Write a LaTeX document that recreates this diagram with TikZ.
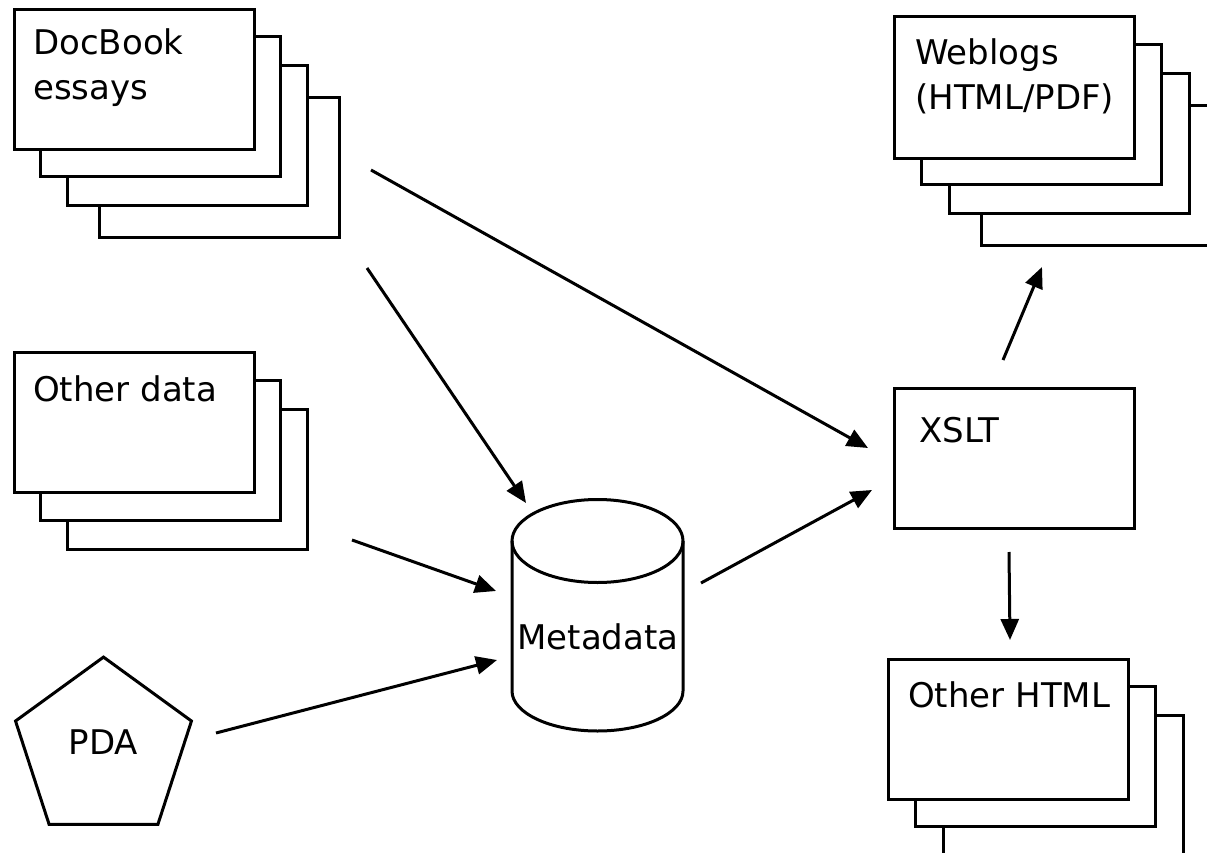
\documentclass[tikz,border=0pt]{standalone}
\usepackage{fontspec}
\setmainfont{DejaVu Sans}
\usetikzlibrary{arrows.meta,shapes.geometric,positioning}

\tikzset{
  sheet/.style={draw,fill=white,line width=3pt,minimum width=240pt,minimum height=140pt,anchor=north west,inner sep=0pt},
  caption/.style={anchor=base west,align=left,inner sep=0pt,font=\fontsize{34}{45}\selectfont},
  flow/.style={line width=3pt,-{Triangle[length=21pt,width=18pt]}},
}

\begin{document}
\begin{tikzpicture}[x=1pt,y=-1pt]
    \useasboundingbox (0,0) rectangle (1207,853);
    \clip (0,0) rectangle (1207,853);
    % docbook stack
    \node[sheet] (doc4) at (98,96) {};
    \node[sheet] (doc3) at (66,64) {};
    \node[sheet] (doc2) at (39,35) {};
    \node[sheet] (doc1) at (13,8) {};
    \node[caption] (doc-txt) at ([shift={(20,92)}]doc1.north west) {DocBook\\essays};
    % other data stack
    \node[sheet] (data3) at (66,408) {};
    \node[sheet] (data2) at (39,379) {};
    \node[sheet] (data1) at (13,351) {};
    \node[caption] (data-txt) at ([shift={(20,50)}]data1.north west) {Other data};
    % pda
    \node[draw,line width=3pt,regular polygon,regular polygon sides=5,minimum size=185pt,inner sep=0pt] (pda) at (103.5,749.6) {};
    \node[font=\fontsize{34}{45}\selectfont,inner sep=0pt] (pda-txt) at ([yshift=8pt]pda.center) {PDA};
    % metadata cylinder
    \draw[line width=3pt,fill=white] (512,541) -- (512,691) arc[start angle=180,end angle=0,x radius=85.5,y radius=40] -- (683,541);
    \draw[line width=3pt] (597.5,541) ellipse [x radius=85.5,y radius=41.5];
    \node[font=\fontsize{34}{45}\selectfont,inner sep=0pt] (meta) at (598,637) {Metadata};
    % xslt
    \node[sheet] (xslt) at (893,387) {};
    \node[caption] (xslt-txt) at ([shift={(26,55)}]xslt.north west) {XSLT};
    % weblogs stack
    \node[sheet] (web4) at (980,104) {};
    \node[sheet] (web3) at (948,72) {};
    \node[sheet] (web2) at (920,43) {};
    \node[sheet,minimum height=142pt] (web1) at (893,15) {};
    \node[caption] (web-txt) at ([shift={(22,95)}]web1.north west) {Weblogs\\(HTML/PDF)};
    % other html stack
    \node[sheet] (html3) at (942,714) {};
    \node[sheet] (html2) at (914,685) {};
    \node[sheet] (html1) at (887,658) {};
    \node[caption] (html-txt) at ([shift={(21,49)}]html1.north west) {Other HTML};
    % arrow ends
    \coordinate (doc-a) at (371,170);
    \coordinate (doc-b) at (367,268);
    \coordinate (data-a) at (352,540);
    \coordinate (pda-a) at (216,733);
    \coordinate (meta-a) at (701,583);
    \coordinate (xslt-a) at (1003,360);
    \coordinate (xslt-b) at (1009,552);
    \coordinate (xslt-in1) at (868,448);
    \coordinate (xslt-in2) at (872,490);
    \coordinate (meta-in1) at (526,503);
    \coordinate (meta-in2) at (496,591);
    \coordinate (meta-in3) at (497,660);
    \coordinate (web-in) at (1042,267);
    \coordinate (html-in) at (1010,640);
    \draw[flow] (doc-a) -- (xslt-in1);
    \draw[flow] (doc-b) -- (meta-in1);
    \draw[flow] (data-a) -- (meta-in2);
    \draw[flow] (pda-a) -- (meta-in3);
    \draw[flow] (meta-a) -- (xslt-in2);
    \draw[flow] (xslt-a) -- (web-in);
    \draw[flow] (xslt-b) -- (html-in);
\end{tikzpicture}
\end{document}
